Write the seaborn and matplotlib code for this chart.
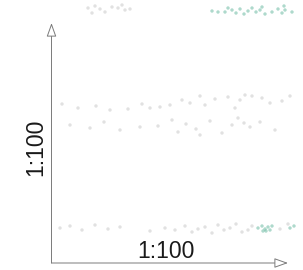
import matplotlib
matplotlib.use("Agg")
import matplotlib.pyplot as plt
import seaborn as sns
import pandas as pd

# point positions (x to the right, y downward, in chart units)
green_x = [212, 218, 225, 228, 232, 236, 240, 244, 248, 252, 256, 260, 262, 265, 272, 278, 282, 284, 285, 292,
           258, 262, 265, 268, 270, 272, 266, 263, 290, 294]
green_y = [11, 12, 12, 8, 10, 13, 9, 14, 11, 8, 12, 10, 7, 14, 12, 9, 13, 6, 10, 12,
           228, 226, 229, 227, 230, 226, 231, 231, 228, 226]
gray_x = [88, 95, 100, 105, 112, 118, 125, 130, 92, 122,
          62, 78, 96, 110, 128, 142, 150, 160, 170, 182, 190, 200, 215, 228, 240, 252, 262, 270, 282, 290, 205, 245, 235,
          70, 90, 104, 120, 140, 158, 172, 178, 186, 196, 210, 222, 232, 244, 250, 260, 275, 200, 238,
          60, 70, 82, 95, 108, 120, 150, 165, 175, 185, 192, 198, 205, 212, 218, 224, 230, 236, 242, 248, 252, 280, 288]
gray_y = [8, 6, 9, 12, 7, 8, 10, 9, 13, 5,
          104, 108, 106, 110, 109, 104, 108, 107, 105, 100, 103, 96, 99, 97, 100, 96, 98, 103, 101, 96, 105, 95, 108,
          125, 128, 122, 130, 127, 126, 120, 132, 124, 129, 121, 133, 125, 123, 127, 122, 130, 135, 118,
          228, 226, 230, 225, 229, 227, 231, 228, 230, 226, 232, 229, 227, 233, 225, 230, 228, 224, 232, 230, 226, 229, 224]
x_label = "1:100"
y_label = "1:100"

df = pd.DataFrame({
    "x": green_x + gray_x,
    "y": green_y + gray_y,
    "group": ["green"] * len(green_x) + ["gray"] * len(gray_x),
})

sns.set_theme(style="white")
plt.rcParams["font.family"] = ["Liberation Sans", "DejaVu Sans"]

fig = plt.figure(figsize=(3.03, 2.70), dpi=100)
ax = fig.add_axes([0, 0, 1, 1])
sns.scatterplot(data=df, x="x", y="y", hue="group",
                palette={"green": "#5fb59a", "gray": "#c4c4c4"},
                s=6, alpha=0.5, linewidth=0, legend=False, ax=ax)
ax.set_xlim(0, 303)
ax.set_ylim(270, 0)
ax.axis("off")

arrow = dict(arrowstyle="-|>,head_length=0.7,head_width=0.25", ec="#7a7a7a",
             fc="white", lw=0.7, shrinkA=0, shrinkB=0)
ax.annotate("", xy=(51.5, 23), xytext=(51.5, 263), arrowprops=arrow)
ax.annotate("", xy=(288, 263), xytext=(51.5, 263), arrowprops=arrow)

ax.text(166, 251, x_label, ha="center", va="center", fontsize=16.5, color="#1a1a1a")
ax.text(36, 147, y_label, ha="center", va="center", rotation=90, fontsize=16.5, color="#1a1a1a")

fig.savefig("out.png", dpi=100, facecolor="white")
